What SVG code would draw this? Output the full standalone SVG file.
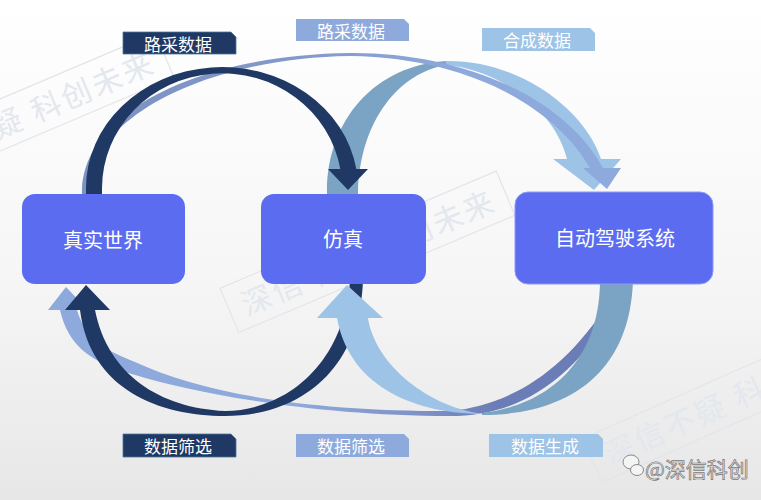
<svg xmlns="http://www.w3.org/2000/svg" width="761" height="500" viewBox="0 0 761 500">
<style>
.node{fill:#5b6cf0;}
.ntext{font-family:"Noto Sans CJK SC","Noto Sans",sans-serif;font-size:20px;fill:#ffffff;text-anchor:middle;dominant-baseline:central;}
.ltext{font-family:"Noto Sans CJK SC","Noto Sans",sans-serif;font-size:17px;fill:#ffffff;text-anchor:middle;dominant-baseline:central;}
.wm rect{fill:none;stroke:#e1e5ec;stroke-width:1.2;}
.wm text{font-family:"Noto Sans CJK SC",sans-serif;font-size:30px;fill:#e3e7ee;letter-spacing:3px;}
.navy{fill:#1f3864;}
.mid{fill:#8ea9db;}
.light{fill:#9dc3e6;}
.steel{fill:#7ba3c3;}
.lbl-navy{fill:#1f3864;stroke:#4a7a94;stroke-width:0.8;}
.lbl-mid{fill:#8ea9db;}
.lbl-light{fill:#9dc3e6;}
</style>
<defs>
<linearGradient id="bg" x1="0" y1="0" x2="0" y2="1">
<stop offset="0" stop-color="#ffffff"/>
<stop offset="0.55" stop-color="#f6f6f6"/>
<stop offset="1" stop-color="#e7e7e7"/>
</linearGradient>
<linearGradient id="gB" gradientUnits="userSpaceOnUse" x1="80" y1="0" x2="620" y2="0">
<stop offset="0" stop-color="#7a91c2"/>
<stop offset="0.4" stop-color="#8299c9"/>
<stop offset="0.7" stop-color="#8ea9db"/>
<stop offset="1" stop-color="#8ea9db"/>
</linearGradient>
<linearGradient id="gE" gradientUnits="userSpaceOnUse" x1="40" y1="0" x2="610" y2="0">
<stop offset="0" stop-color="#8ea9db"/>
<stop offset="0.45" stop-color="#8ea9db"/>
<stop offset="0.68" stop-color="#7d8fc6"/>
<stop offset="0.8" stop-color="#6b7db6"/>
<stop offset="1" stop-color="#6b7db6"/>
</linearGradient>
</defs>

<rect x="0" y="0" width="761" height="500" fill="url(#bg)"/>

<g id="watermarks">
<g class="wm" transform="translate(-94,178) rotate(-23)">
<rect x="-14" y="-36" width="300" height="48"/>
<text x="0" y="0">深信不疑 科创未来</text>
</g>
<g class="wm" transform="translate(247,316) rotate(-23)">
<rect x="-14" y="-36" width="300" height="48"/>
<text x="0" y="0">深信不疑 科创未来</text>
</g>
<g class="wm" transform="translate(610,466) rotate(-24)">
<rect x="-14" y="-36" width="300" height="48"/>
<text x="0" y="0">深信不疑 科创未来</text>
</g>
</g>

<g id="connectors">
<!-- top: 仿真 -> 自动驾驶系统 (合成数据) -->
<path id="arrow-sim-ads-back" class="steel" d="M 327,196 L 327,192 C 327,120 375,65 447,61 L 447,65 C 400,72 360,120 358,192 L 358,196 Z"/>
<path id="arrow-sim-ads" class="light" d="M 446,61 C 520,60 585,110 601,159 L 621,159 L 594,190 L 553,159 L 567,159 C 555,110 500,70 446,65 Z"/>
<!-- top: 真实世界 -> 自动驾驶系统 (路采数据) -->
<path id="arrow-real-ads" fill="url(#gB)" d="M 82,196 L 82,190 C 85,110 200,55 350,53 C 450,52 560,90 603,168 L 621,168 L 607,189 L 583,168 L 590,168 C 560,115 480,58 350,56 C 210,58 92,115 88,190 L 88,196 Z"/>
<!-- top: 真实世界 -> 仿真 (路采数据) -->
<path id="arrow-real-sim" class="navy" d="M 86,196 L 86,188 A 136 121 0 0 1 356.3,169 L 368,169 L 348,190 L 328,169 L 340.3,169 A 120 115 0 0 0 102,188 L 102,196 Z"/>

<!-- bottom: 自动驾驶系统 -> 真实世界 (数据筛选) -->
<path id="arrow-ads-real" fill="url(#gE)" d="M 60,310 C 68,345 90,360 120,370 C 170,388 300,416 450,416 C 515,416 572,385 620,300 L 610,300 C 565,372 510,405 450,411 C 300,411 200,392 135,362 C 105,350 86,340 77,310 L 88,310 L 66,287 L 48,310 Z"/>
<!-- bottom: 仿真 -> 真实世界 (数据筛选) -->
<path id="arrow-sim-real" class="navy" d="M 363,280 C 360,370 300,416 225,416 C 160,416 90,390 80,310 L 65,310 L 86,285 L 110,310 L 95,310 C 108,375 160,408 225,411 C 290,410 345,360 350,280 Z"/>
<!-- bottom: 自动驾驶系统 -> 仿真 (数据生成) -->
<path id="arrow-ads-sim" class="light" d="M 317,318 L 347,285 L 383,318 L 368,318 C 375,365 430,408 484,414 C 420,414 350,390 337,318 Z"/>
<path id="arrow-ads-sim-back" class="steel" d="M 482,415 C 560,415 630,380 633,280 L 600,280 C 600,360 550,405 482,413 Z"/>
</g>

<g id="node-real">
<rect class="node" x="22" y="194" width="163" height="90" rx="13"/>
<text class="ntext" x="103" y="239">真实世界</text>
</g>
<g id="node-sim">
<rect class="node" x="261" y="194" width="165" height="90" rx="13"/>
<text class="ntext" x="343" y="238">仿真</text>
</g>
<g id="node-ads">
<rect class="node" x="515" y="192" width="198" height="92" rx="13" stroke="#8f9af4" stroke-width="1"/>
<text class="ntext" x="615" y="237">自动驾驶系统</text>
</g>

<g id="label-top-real-sim">
<path class="lbl-navy" d="M 123,32 L 231,32 L 236,37 L 236,54 L 123,54 Z"/>
<text class="ltext" x="178" y="43">路采数据</text>
</g>
<g id="label-top-real-ads">
<path class="lbl-mid" d="M 296,19 L 404,19 L 409,24 L 409,41 L 296,41 Z"/>
<text class="ltext" x="351" y="30">路采数据</text>
</g>
<g id="label-top-sim-ads">
<path class="lbl-light" d="M 482,28 L 590,28 L 595,33 L 595,51 L 482,51 Z"/>
<text class="ltext" x="537" y="39.5">合成数据</text>
</g>
<g id="label-bot-sim-real">
<path class="lbl-navy" d="M 123,434 L 231,434 L 236,439 L 236,457 L 123,457 Z"/>
<text class="ltext" x="178" y="445.5">数据筛选</text>
</g>
<g id="label-bot-ads-real">
<path class="lbl-mid" d="M 296,434 L 404,434 L 409,439 L 409,457 L 296,457 Z"/>
<text class="ltext" x="351" y="445.5">数据筛选</text>
</g>
<g id="label-bot-ads-sim">
<path class="lbl-light" d="M 489,434 L 598,434 L 603,439 L 603,457 L 489,457 Z"/>
<text class="ltext" x="545" y="445.5">数据生成</text>
</g>

<g id="credit">
<ellipse cx="631" cy="462" rx="8" ry="7" fill="#f4f4f4" stroke="#8a8a8a" stroke-width="1"/>
<ellipse cx="637" cy="470" rx="6.5" ry="5.5" fill="#f4f4f4" stroke="#8a8a8a" stroke-width="1"/>
<text x="645" y="477" font-family="Noto Sans CJK SC, sans-serif" font-size="21" fill="#e2e2e2" stroke="#7a7a7a" stroke-width="0.7">@深信科创</text>
</g>
</svg>
